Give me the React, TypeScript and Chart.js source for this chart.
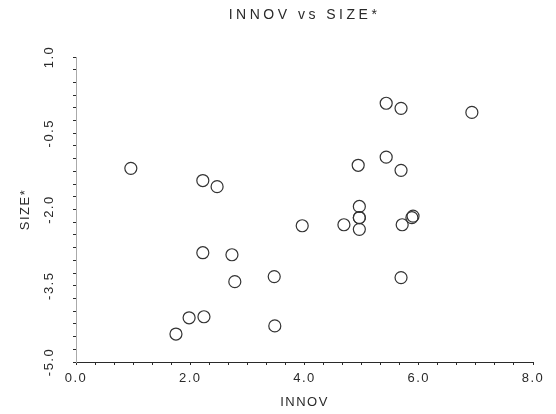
import React, { useEffect, useRef } from "react";
import { Chart, registerables } from "chart.js";

Chart.register(...registerables);

const TITLE = "INNOV vs SIZE*";
const X_TITLE = "INNOV";
const Y_TITLE = "SIZE*";

const INNOV = [0.96, 2.22, 2.47, 2.22, 2.73, 2.78, 3.47, 1.98, 2.24, 1.75, 3.48, 3.96, 4.69, 4.94, 5.43, 5.69, 4.96, 4.96, 4.96, 4.96, 5.71, 5.88, 5.9, 5.43, 5.69, 6.93, 5.69];
const SIZE = [-1.19, -1.43, -1.55, -2.85, -2.89, -3.42, -3.32, -4.13, -4.11, -4.45, -4.29, -2.32, -2.3, -1.13, -0.97, -1.23, -1.94, -2.16, -2.16, -2.39, -2.3, -2.16, -2.13, 0.09, -0.01, -0.09, -3.34];

const X_MIN = 0;
const X_MAX = 8;
const Y_MIN = -5;
const Y_MAX = 1;
const X_TICK_LABELS = ["0.0", "2.0", "4.0", "6.0", "8.0"];
const Y_TICK_LABELS = ["-5.0", "-3.5", "-2.0", "-0.5", "1.0"];
const MINOR_PER_MAJOR = 6;

const FONT = "'Liberation Sans', Arial, Helvetica, sans-serif";
const INK = "#2a2a2a";

function minorTicks(min: number, max: number, majors: number) {
  const n = (majors - 1) * MINOR_PER_MAJOR;
  const out: { value: number }[] = [];
  for (let i = 0; i <= n; i++) out.push({ value: min + ((max - min) * i) / n });
  return out;
}

const spacingPlugin = {
  id: "letterSpacing",
  beforeUpdate(chart: any) {
    chart.ctx.letterSpacing = "1.5px";
  },
  afterLayout(chart: any) {
    const tb = chart.titleBlock;
    if (tb && !tb.__wrapped) {
      const orig = tb.draw;
      tb.draw = function (...args: any[]) {
        const ctx = chart.ctx;
        ctx.save();
        ctx.letterSpacing = "3.5px";
        orig.apply(this, args);
        ctx.restore();
      };
      tb.__wrapped = true;
    }
  },
  beforeDraw(chart: any) {
    chart.ctx.letterSpacing = "1.5px";
  },
};

export default function App() {
  const ref = useRef<HTMLCanvasElement | null>(null);
  useEffect(() => {
    if (!ref.current) return;
    const points = INNOV.map((x, i) => ({ x, y: SIZE[i] }));
    const chart = new Chart(ref.current, {
      type: "scatter",
      data: {
        datasets: [
          {
            data: points,
            pointStyle: "circle",
            pointRadius: 6,
            pointBorderWidth: 1.2,
            borderColor: "#333",
            backgroundColor: "rgba(0,0,0,0)",
            pointBackgroundColor: "rgba(0,0,0,0)",
            pointBorderColor: "#333",
          },
        ],
      },
      plugins: [spacingPlugin],
      options: {
        animation: false,
        responsive: false,
        layout: { padding: { left: 0, right: 23, top: 0, bottom: 0 } },
        plugins: {
          legend: { display: false },
          tooltip: { enabled: false },
          title: {
            display: true,
            text: TITLE,
            fullSize: false,
            color: INK,
            font: { family: FONT, size: 14, weight: "normal" },
            padding: { top: 6.6, bottom: 33.6 },
          },
        },
        scales: {
          x: {
            type: "linear",
            min: X_MIN,
            max: X_MAX,
            afterBuildTicks: (s: any) => {
              s.ticks = minorTicks(X_MIN, X_MAX, X_TICK_LABELS.length);
            },
            afterFit: (s: any) => {
              s.height = 52;
            },
            ticks: {
              autoSkip: false,
              minRotation: 0,
              maxRotation: 0,
              padding: 6,
              color: INK,
              font: { family: FONT, size: 13 },
              callback: (_v: any, i: number) =>
                i % MINOR_PER_MAJOR === 0 ? X_TICK_LABELS[i / MINOR_PER_MAJOR] : "",
            },
            grid: { drawOnChartArea: false, drawTicks: true, tickLength: 3, color: INK },
            border: { display: true, color: INK, width: 1 },
            title: {
              display: true,
              text: X_TITLE,
              color: INK,
              font: { family: FONT, size: 13 },
              padding: { top: 0, bottom: 4.2 },
            },
          },
          y: {
            type: "linear",
            min: Y_MIN,
            max: Y_MAX,
            afterBuildTicks: (s: any) => {
              s.ticks = minorTicks(Y_MIN, Y_MAX, Y_TICK_LABELS.length);
            },
            afterFit: (s: any) => {
              s.width = 76;
            },
            ticks: {
              autoSkip: false,
              minRotation: 90,
              maxRotation: 90,
              crossAlign: "center",
              padding: 9.8,
              color: INK,
              font: { family: FONT, size: 13 },
              callback: (_v: any, i: number) =>
                i % MINOR_PER_MAJOR === 0 ? Y_TICK_LABELS[i / MINOR_PER_MAJOR] : "",
            },
            grid: { drawOnChartArea: false, drawTicks: true, tickLength: 3, color: INK },
            border: { display: true, color: "#aaa", width: 1 },
            title: {
              display: true,
              text: Y_TITLE,
              color: INK,
              font: { family: FONT, size: 13 },
              padding: { top: 17.2, bottom: 0 },
            },
          },
        },
      },
    } as any);
    return () => chart.destroy();
  }, []);
  return (
    <div style={{ position: "absolute", left: 0, top: 0, width: 556, height: 414, background: "#fff" }}>
      <canvas ref={ref} width={556} height={414} style={{ display: "block", width: 556, height: 414 }} />
    </div>
  );
}
